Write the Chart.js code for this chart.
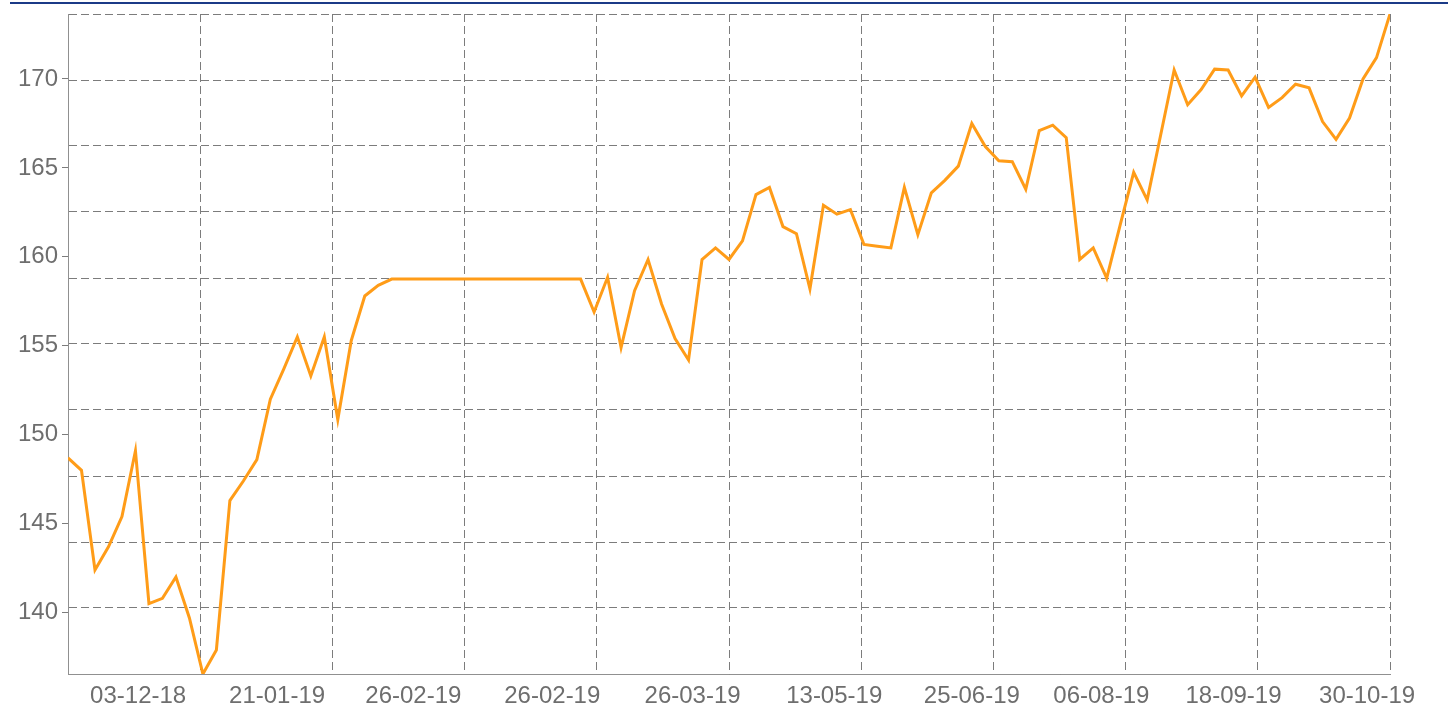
<!DOCTYPE html>
<html>
<head>
<meta charset="utf-8">
<script src="https://cdn.jsdelivr.net/npm/chart.js@4.4.1/dist/chart.umd.min.js"></script>
<style>
  body { margin: 0; background: #fff; }
  #wrap { position: relative; width: 1448px; height: 709px; }
  #topline { position: absolute; left: 10px; right: 0; top: 2px; height: 2px; background: #1b3a87; }
</style>
</head>
<body>
<div id="wrap">
  <div id="topline"></div>
  <canvas id="price"></canvas>
</div>
<script>
const values = [
  148.7, 148.0, 142.4, 143.7, 145.4, 149.1, 140.5, 140.8, 142.0, 139.7,
  136.55, 137.9, 146.3, 147.4, 148.6, 152.0, 153.7, 155.5, 153.3, 155.5,
  150.85, 155.3, 157.8, 158.4, 158.75, 158.75, 158.75, 158.75, 158.75, 158.75,
  158.75, 158.75, 158.75, 158.75, 158.75, 158.75, 158.75, 158.75, 158.75, 156.9,
  158.85, 154.9, 158.1, 159.85, 157.35, 155.4, 154.2, 159.85, 160.5, 159.85,
  160.9, 163.5, 163.9, 161.7, 161.3, 158.2, 162.9, 162.4, 162.65, 160.7,
  160.6, 160.5, 163.9, 161.25, 163.6, 164.3, 165.1, 167.5, 166.2, 165.4,
  165.35, 163.8, 167.1, 167.4, 166.7, 159.85, 160.5, 158.8, 161.8, 164.75,
  163.2, 166.85, 170.5, 168.55, 169.4, 170.55, 170.5, 169.05, 170.1, 168.4,
  168.95, 169.7, 169.5, 167.6, 166.6, 167.8, 170.0, 171.2, 173.65
];

// date labels and the observation index they sit under
const tickLabels = ['03-12-18', '21-01-19', '26-02-19', '26-02-19', '26-03-19',
                    '13-05-19', '25-06-19', '06-08-19', '18-09-19', '30-10-19'];
const tickPos = [5.2, 15.5, 25.6, 35.9, 46.3, 56.8, 67, 76.6, 86.4, 96.3];

const yTicks = [140, 145, 150, 155, 160, 165, 170];

const yMin = Math.min(...values);
const yMax = Math.max(...values);
const xMax = values.length - 1;

Chart.defaults.font.family = '"Liberation Sans", Arial, sans-serif';
Chart.defaults.font.size = 24;
Chart.defaults.color = '#6e6e6e';

// grid split into 10 equal parts, like the original
function tenParts(scale) {
  const lo = scale.min, hi = scale.max;
  scale.ticks = [];
  for (let k = 0; k <= 10; k++) scale.ticks.push({ value: lo + (hi - lo) * k / 10 });
}

const gridCol = '#7c7c7c';

new Chart(document.getElementById('price'), {
  type: 'line',
  data: {
    datasets: [{
      data: values.map((v, i) => ({ x: i, y: v })),
      borderColor: '#ff9c18',
      borderWidth: 3,
      pointRadius: 0,
      tension: 0,
      xAxisID: 'x',
      yAxisID: 'y'
    }]
  },
  options: {
    responsive: true,
    maintainAspectRatio: false,
    animation: false,
    layout: { padding: { left: 0, right: 58, top: 14, bottom: 0 } },
    plugins: { legend: { display: false }, tooltip: { enabled: false } },
    scales: {
      x: {
        type: 'linear',
        min: 0,
        max: xMax,
        weight: 0,
        afterBuildTicks: tenParts,
        ticks: { display: false },
        grid: { color: gridCol, lineWidth: 1, drawTicks: false },
        border: { display: true, color: '#909090', dash: [8, 4] }
      },
      xl: {
        type: 'linear',
        position: 'bottom',
        min: 0,
        max: xMax,
        weight: 1,
        afterBuildTicks: s => { s.ticks = tickPos.map(v => ({ value: v })); },
        afterFit: s => { s.height = 35; s.paddingLeft = 0; s.paddingRight = 0; },
        ticks: {
          autoSkip: false,
          maxRotation: 0,
          padding: 8,
          callback: (v, i) => tickLabels[i]
        },
        grid: { display: false, drawTicks: false },
        border: { display: false }
      },
      y: {
        type: 'linear',
        position: 'left',
        min: yMin,
        max: yMax,
        weight: 0,
        afterBuildTicks: tenParts,
        ticks: { display: false },
        grid: { color: gridCol, lineWidth: 1, drawTicks: false },
        border: { display: true, color: '#909090', dash: [8, 4] }
      },
      yl: {
        type: 'linear',
        position: 'left',
        min: yMin,
        max: yMax,
        weight: 1,
        afterBuildTicks: s => { s.ticks = yTicks.map(v => ({ value: v })); },
        afterFit: s => { s.width = 68; s.paddingTop = 0; s.paddingBottom = 0; },
        ticks: { padding: 4 },
        grid: { drawOnChartArea: false, drawTicks: true, tickLength: 6, color: gridCol },
        border: { display: false }
      }
    }
  }
});
</script>
</body>
</html>
